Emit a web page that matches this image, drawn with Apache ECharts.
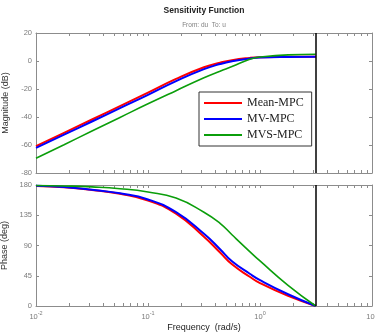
<!DOCTYPE html>
<html>
<head>
<meta charset="utf-8">
<script src="https://cdn.jsdelivr.net/npm/echarts@6/dist/echarts.min.js"></script>
<style>
  html, body { margin: 0; padding: 0; background: #fff; }
  #chart { width: 375px; height: 335px; }
</style>
</head>
<body>
<div id="chart"></div>
<script>
// frequencies (rad/s)
const freq = [0.01, 0.0178, 0.0316, 0.0562, 0.1, 0.178, 0.316, 0.44, 0.562, 0.81, 1, 1.78, 3.1416];

// magnitude (dB)
const magMean = [-60.8, -51.3, -41.8, -32.2, -22.6, -12.8, -4.5, -1.2, 0.6, 2.2, 2.7, 3.0, 3.0];
const magMV   = [-62.0, -52.6, -43.2, -33.7, -24.2, -14.4, -5.8, -2.2, -0.2, 1.8, 2.5, 2.9, 3.0];
const magMVS  = [-69.5, -59.8, -50.0, -40.3, -30.6, -21.2, -12.0, -7.3, -4.0, 1.3, 2.8, 4.4, 4.8];

// phase (deg)
const phMean = [178.6, 176.6, 172.6, 167.0, 157.0, 137.5, 103.0, 79.5, 62.0, 43.5, 34.0, 15.0, 0];
const phMV   = [178.8, 177.0, 173.0, 167.6, 158.5, 139.5, 107.5, 84.5, 66.5, 48.0, 38.5, 17.5, 0];
const phMVS  = [179.3, 178.6, 177.2, 174.5, 169.5, 160.5, 139.5, 123.0, 106.0, 81.0, 67.0, 30.7, 0];

const seriesNames = ['Mean-MPC', 'MV-MPC', 'MVS-MPC'];
const seriesColors = ['#ff0000', '#0000ff', '#0b9e0b'];
const nyquistFreq = 3.1416;

const magTicks = { min: -80, max: 20, interval: 20 };
const phaseTicks = { min: 0, max: 180, interval: 45 };
const decades = [0.01, 0.1, 1, 10];

const chart = echarts.init(document.getElementById('chart'));

const axisGray = '#8c8c8c';
const labelGray = '#7a7a7a';
const font = 'Liberation Sans';

// log minor tick positions 1..9 per decade
const logTicks = [];
for (let d = -2; d < 1; d++) {
    for (let k = 1; k <= 9; k++) logTicks.push(+(k * Math.pow(10, d)).toPrecision(3));
}
logTicks.push(10);

const pairs = (ys) => freq.map((f, i) => [f, ys[i]]);

const xAxisFor = (gridIndex, position, withLabels) => ({
    type: 'log',
    logBase: 10,
    min: 0.01,
    max: 10,
    gridIndex,
    position,
    axisLine: { show: true, onZero: false, lineStyle: { color: axisGray, width: 1 } },
    axisTick: { show: true, inside: true, length: 3, customValues: logTicks, lineStyle: { color: axisGray } },
    axisLabel: {
        show: withLabels,
        customValues: decades,
        margin: 4,
        formatter: (v) => '{a|10}{b|' + Math.round(Math.log10(v)) + '}',
        rich: {
            a: { fontSize: 7.5, color: labelGray, fontFamily: font, lineHeight: 11, verticalAlign: 'bottom' },
            b: { fontSize: 5.5, color: labelGray, fontFamily: font, lineHeight: 11, verticalAlign: 'top' },
        },
    },
    splitLine: { show: false },
});

const yAxisFor = (gridIndex, position, ticks, name) => ({
    type: 'value',
    gridIndex,
    position,
    min: ticks.min,
    max: ticks.max,
    interval: ticks.interval,
    axisLine: { show: true, onZero: false, lineStyle: { color: axisGray, width: 1 } },
    axisTick: { show: true, inside: true, length: 3, lineStyle: { color: axisGray } },
    axisLabel: { show: !!name, color: labelGray, fontSize: 7.5, fontFamily: font, margin: 4 },
    splitLine: { show: false },
    name: name || '',
    nameLocation: 'middle',
    nameGap: 20,
    nameTextStyle: { color: '#333', fontSize: 9, fontFamily: font },
});

const nyquistLine = {
    silent: true,
    symbol: 'none',
    label: { show: false },
    lineStyle: { color: '#000', width: 1.5, type: 'solid' },
    data: [{ xAxis: nyquistFreq }],
};

const lineSeries = (i, ys, xIdx, yIdx) => ({
    name: seriesNames[i],
    type: 'line',
    xAxisIndex: xIdx,
    yAxisIndex: yIdx,
    data: pairs(ys),
    smooth: 0.5,
    showSymbol: false,
    color: seriesColors[i],
    lineStyle: { width: i === 2 ? 1.6 : 2, color: seriesColors[i] },
    markLine: i === 2 ? nyquistLine : undefined,
    z: 2 + i,
});

const option = {
    animation: false,
    backgroundColor: '#fff',
    grid: [
        { left: 36, top: 33, width: 336, height: 140, outerBoundsMode: 'none', containLabel: false },
        { left: 36, top: 185, width: 336, height: 121, outerBoundsMode: 'none', containLabel: false },
    ],
    xAxis: [
        xAxisFor(0, 'bottom', false),
        xAxisFor(0, 'top', false),
        Object.assign(xAxisFor(1, 'bottom', true), {
            name: 'Frequency  (rad/s)',
            nameLocation: 'middle',
            nameGap: 17,
            nameTextStyle: { color: '#222', fontSize: 9, fontFamily: font },
        }),
        xAxisFor(1, 'top', false),
    ],
    yAxis: [
        yAxisFor(0, 'left', magTicks, 'Magnitude (dB)'),
        yAxisFor(0, 'right', magTicks),
        yAxisFor(1, 'left', phaseTicks, 'Phase (deg)'),
        yAxisFor(1, 'right', phaseTicks),
    ],
    legend: {
        data: seriesNames,
        orient: 'vertical',
        left: 199,
        top: 92,
        padding: [4, 8, 4, 5],
        itemGap: 2,
        itemWidth: 38,
        itemHeight: 2,
        icon: 'rect',
        backgroundColor: '#fff',
        borderColor: '#333',
        borderWidth: 1,
        borderRadius: 0,
        textStyle: { fontFamily: 'Liberation Serif', fontSize: 12, color: '#222', lineHeight: 14 },
    },
    graphic: [
        {
            type: 'text', x: 204, y: 11,
            style: { text: 'Sensitivity Function', align: 'center', verticalAlign: 'middle',
                font: 'bold 8.5px "Liberation Sans"', fill: '#222' },
        },
        {
            type: 'text', x: 204, y: 25,
            style: { text: 'From: du  To: u', align: 'center', verticalAlign: 'middle',
                font: '6.5px "Liberation Sans"', fill: '#808080' },
        },
    ],
    series: [
        lineSeries(0, magMean, 0, 0),
        lineSeries(1, magMV, 0, 0),
        lineSeries(2, magMVS, 0, 0),
        lineSeries(0, phMean, 2, 2),
        lineSeries(1, phMV, 2, 2),
        lineSeries(2, phMVS, 2, 2),
    ],
};

chart.setOption(option);
</script>
</body>
</html>
